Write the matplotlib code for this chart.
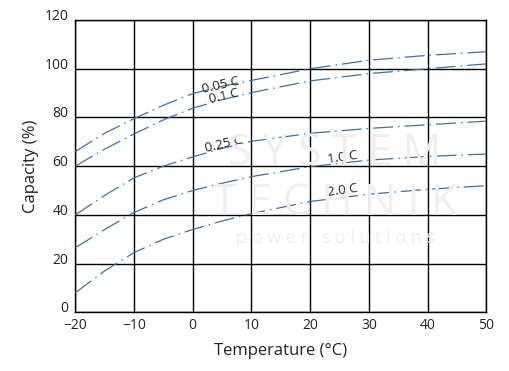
import matplotlib
matplotlib.use("Agg")
import matplotlib.pyplot as plt

temps = [-20, -15, -10, -5, 0, 5, 10, 20, 30, 40, 50]
cap_005 = [66, 73.5, 79.5, 85, 89.8, 92.8, 95.2, 100, 103.5, 105.5, 107]
cap_01 = [60, 67, 73.2, 79, 83.8, 87.3, 90.2, 95, 98, 100, 102]
cap_025 = [40, 48, 55.2, 60, 63.8, 67.3, 70.2, 73.5, 75.5, 77, 78.5]
cap_10 = [26.5, 34, 41, 46.2, 50, 53, 55.7, 59.8, 62.5, 64, 65]
cap_20 = [8, 17, 24.5, 30, 34, 37.5, 40.5, 45.5, 48.5, 50.5, 52]
series_labels = ["0.05 C", "0.1 C", "0.25 C", "1.0 C", "2.0 C"]
x_ticks = [-20, -10, 0, 10, 20, 30, 40, 50]
y_ticks = [0, 20, 40, 60, 80, 100, 120]

plt.rcParams['font.family'] = ['Open Sans', 'DejaVu Sans']

fig = plt.figure(figsize=(5.1, 3.71), dpi=100)
ax = fig.add_axes([0.1476, 0.1582, 0.8059, 0.7878])

# faint watermark
wm = "#efefef"
fig.text(0.657, 1 - 165 / 371, "S Y S T E M", fontsize=31, color=wm, ha="center", va="baseline", zorder=0)
fig.text(0.657, 1 - 215 / 371, "T E C H N I K", fontsize=31, color=wm, ha="center", va="baseline", zorder=0)
fig.text(0.657, 1 - 243 / 371, "p o w e r   s o l u t i o n s", fontsize=13, color=wm, ha="center", va="baseline", zorder=0)
ax.patch.set_alpha(0)

color = "#3d72a6"
ls = (0, (16, 4, 1.2, 4))
for vals in [cap_005, cap_01, cap_025, cap_10, cap_20]:
    ax.plot(temps, vals, color=color, lw=0.9, linestyle=ls, zorder=3)

lab_pos = [(4.7, 93.3, 13), (5.3, 88.6, 13), (5.25, 69.1, 13.5), (25.5, 63.5, 8), (25.5, 50.2, 8)]
for lab, (x, y, r) in zip(series_labels, lab_pos):
    ax.text(x, y, lab, fontsize=9.5, color="#222222", ha="center", va="center",
            rotation=r, rotation_mode="anchor", zorder=4)

ax.set_xlim(-20, 50)
ax.set_ylim(0, 120)
ax.set_xticks(x_ticks)
ax.set_yticks(y_ticks)
ax.grid(True, color="black", lw=1.0)
for s in ax.spines.values():
    s.set_color("black")
    s.set_linewidth(1.0)
ax.tick_params(length=0, labelsize=10, colors="#222222")
ax.tick_params(axis="x", pad=4)
ax.tick_params(axis="y", pad=5)
for t in ax.get_yticklabels():
    t.set_verticalalignment("baseline")
ax.set_xlabel("Temperature (°C)", fontsize=12, color="#222222", labelpad=7)
ax.set_ylabel("Capacity (%)", fontsize=12, color="#222222", labelpad=4)
ax.set_axisbelow(True)

fig.savefig("out.png", dpi=100)
